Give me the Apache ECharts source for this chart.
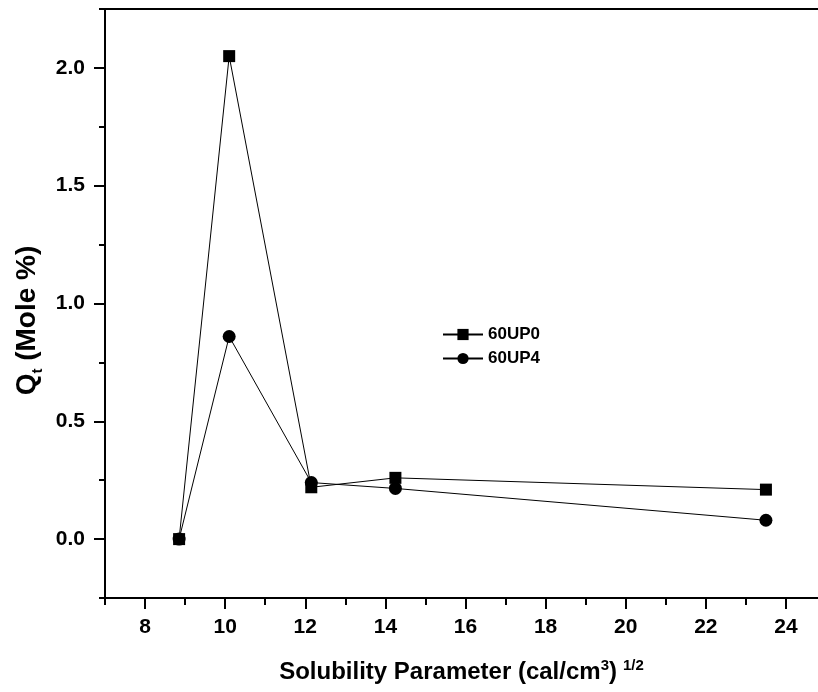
<!DOCTYPE html>
<html><head><meta charset="utf-8">
<script src="https://cdn.jsdelivr.net/npm/echarts@6/dist/echarts.min.js"></script>
<style>html,body{margin:0;padding:0;background:#fff}#c{width:818px;height:692px}</style>
</head><body><div id="c"></div>
<script>
const xValues = [8.85, 10.1, 12.15, 14.25, 23.5];
const up0 = [0.0, 2.05, 0.22, 0.26, 0.21];
const up4 = [0.0, 0.86, 0.24, 0.215, 0.08];
const seriesNames = ['60UP0', '60UP4'];
const xMajorTicks = [8, 10, 12, 14, 16, 18, 20, 22, 24];
const yMajorTicks = [0, 0.5, 1.0, 1.5, 2.0];

const FONT = '"Liberation Sans", Arial, sans-serif';
const X_MIN = 7, X_MAX = 24.8, Y_MIN = -0.25, Y_MAX = 2.25;

const chart = echarts.init(document.getElementById('c'), null, {renderer: 'canvas'});
const lineOn = {show: true, onZero: false, lineStyle: {color: '#000', width: 2}};
const lineOff = {show: false, onZero: false};
const noSplit = {show: false};
const tickStyle = {color: '#000', width: 2};
const isOn = (v, list) => list.some(t => Math.abs(t - v) < 1e-6);

chart.setOption({
  animation: false,
  backgroundColor: '#fff',
  grid: {left: 105, top: 9, right: 0, bottom: 94, containLabel: false},
  legend: {
    left: 437, top: 321, orient: 'vertical',
    itemWidth: 40, itemHeight: 14, itemGap: 7,
    textStyle: {fontFamily: FONT, fontWeight: 'bold', fontSize: 17, color: '#000'},
    data: seriesNames
  },
  xAxis: [
    {
      type: 'value', position: 'bottom', min: X_MIN, max: X_MAX, interval: 1,
      axisLine: lineOn,
      axisTick: {show: true, inside: false, length: 7, lineStyle: tickStyle},
      axisLabel: {show: true, showMaxLabel: false, margin: 19, fontFamily: FONT, fontWeight: 'bold', fontSize: 21, color: '#000',
        formatter: v => isOn(v, xMajorTicks) ? String(v) : ''},
      splitLine: noSplit,
      name: '{m|Solubility Parameter (cal/cm}{s|3}{m|)}{t|1/2}',
      nameLocation: 'middle', nameGap: 60,
      nameTextStyle: {
        rich: {
          m: {fontFamily: FONT, fontWeight: 'bold', fontSize: 24, color: '#000', lineHeight: 26, verticalAlign: 'bottom'},
          s: {fontFamily: FONT, fontWeight: 'bold', fontSize: 15, color: '#000', lineHeight: 26, verticalAlign: 'top'},
          t: {fontFamily: FONT, fontWeight: 'bold', fontSize: 15, color: '#000', lineHeight: 26, verticalAlign: 'top', padding: [0, 0, 0, 6]}
        }
      }
    },
    {
      type: 'value', position: 'bottom', min: X_MIN, max: X_MAX,
      axisLine: lineOff,
      axisTick: {show: true, inside: false, length: 11, customValues: xMajorTicks, lineStyle: tickStyle},
      axisLabel: {show: false},
      splitLine: noSplit
    },
    {
      type: 'value', position: 'top', min: X_MIN, max: X_MAX,
      axisLine: lineOn,
      axisTick: {show: false}, axisLabel: {show: false}, splitLine: noSplit
    }
  ],
  yAxis: [
    {
      type: 'value', position: 'left', min: Y_MIN, max: Y_MAX, interval: 0.25,
      axisLine: lineOn,
      axisTick: {show: true, inside: false, length: 6, lineStyle: tickStyle},
      axisLabel: {show: true, margin: 20, fontFamily: FONT, fontWeight: 'bold', fontSize: 21, color: '#000',
        formatter: v => isOn(v, yMajorTicks) ? v.toFixed(1) : ''},
      splitLine: noSplit,
      name: '{m|Q}{s|t}{m| (Mole %)}',
      nameLocation: 'middle', nameGap: 57,
      nameTextStyle: {
        padding: [0, 34, 0, 0],
        rich: {
          m: {fontFamily: FONT, fontWeight: 'bold', fontSize: 28, color: '#000', lineHeight: 32, verticalAlign: 'top'},
          s: {fontFamily: FONT, fontWeight: 'bold', fontSize: 15, color: '#000', lineHeight: 32, verticalAlign: 'bottom'}
        }
      }
    },
    {
      type: 'value', position: 'left', min: Y_MIN, max: Y_MAX,
      axisLine: lineOff,
      axisTick: {show: true, inside: false, length: 11, customValues: yMajorTicks, lineStyle: tickStyle},
      axisLabel: {show: false},
      splitLine: noSplit
    }
  ],
  series: [
    {
      name: seriesNames[0], type: 'line', xAxisIndex: 0, yAxisIndex: 0,
      data: xValues.map((x, i) => [x, up0[i]]),
      symbol: 'rect', symbolSize: 12, showAllSymbol: true,
      lineStyle: {color: '#000', width: 1}, itemStyle: {color: '#000'}
    },
    {
      name: seriesNames[1], type: 'line', xAxisIndex: 0, yAxisIndex: 0,
      data: xValues.map((x, i) => [x, up4[i]]),
      symbol: 'circle', symbolSize: 13, showAllSymbol: true,
      lineStyle: {color: '#000', width: 1}, itemStyle: {color: '#000'}
    }
  ]
});
</script></body></html>
